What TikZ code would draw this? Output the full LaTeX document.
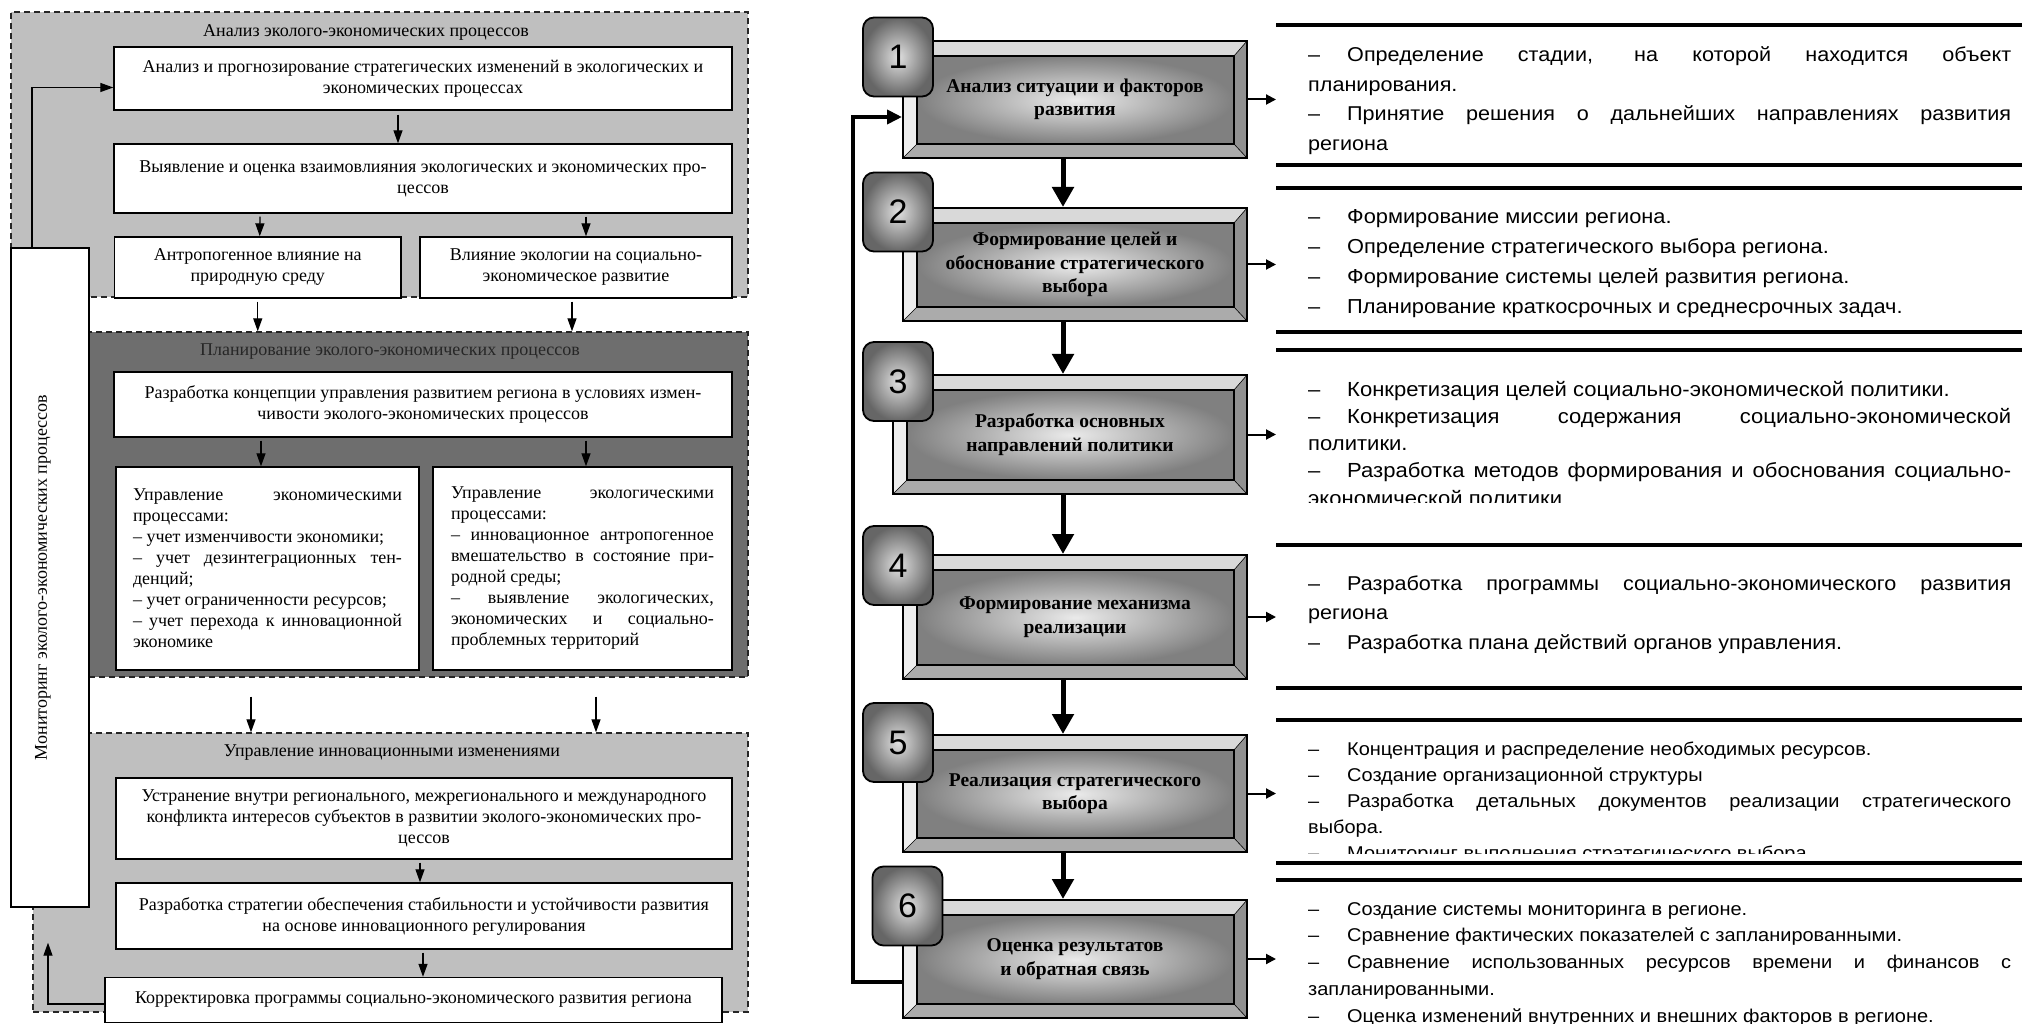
\documentclass[tikz,border=0pt]{standalone}
\usepackage{fontspec}
\setmainfont{Liberation Serif}
\newfontfamily\sansfnt{Liberation Sans}
\newfontfamily\secsans[FakeStretch=1.08]{Liberation Sans}
\usetikzlibrary{arrows.meta}
\setlength{\parindent}{0pt}
\newcommand\leftfnt{\fontsize{18}{21}\selectfont}
\newcommand\stepfnt{\fontsize{19.5}{23.5}\selectfont\bfseries}
\newcommand\secfnt[2]{\secsans\fontsize{#1}{#2}\selectfont}
\newcommand\itm{\makebox[39pt][l]{–}}

\begin{document}
\begin{tikzpicture}[x=1pt,y=-1pt,
  box/.style={draw,line width=1.4pt,fill=white,font=\leftfnt,align=center,inner sep=0pt},
  grp/.style={draw=black!85,line width=1.4pt,dash pattern=on 6pt off 4pt,inner sep=0pt},
  arr/.style={line width=1.3pt,-{Triangle[width=9pt,length=13pt]}},
  stepbox/.style={draw,line width=2pt,align=center,font=\stepfnt,inner sep=0pt,minimum width=344pt,
    path picture={\def\bb{path picture bounding box}
      \fill[black!15] (\bb.north west) -- (\bb.north east) -- ([shift={(-13pt,-15pt)}]\bb.north east) -- ([shift={(14pt,-15pt)}]\bb.north west) -- cycle;
      \fill[black!7] (\bb.north west) -- ([shift={(14pt,-15pt)}]\bb.north west) -- ([shift={(14pt,14pt)}]\bb.south west) -- (\bb.south west) -- cycle;
      \fill[black!33] (\bb.south west) -- ([shift={(14pt,14pt)}]\bb.south west) -- ([shift={(-13pt,14pt)}]\bb.south east) -- (\bb.south east) -- cycle;
      \fill[black!43] (\bb.north east) -- ([shift={(-13pt,-15pt)}]\bb.north east) -- ([shift={(-13pt,14pt)}]\bb.south east) -- (\bb.south east) -- cycle;
      \shade[inner color=black!8,outer color=black!50] ([shift={(14pt,-15pt)}]\bb.north west) rectangle ([shift={(-13pt,14pt)}]\bb.south east);
      \draw[line width=1.8pt] ([shift={(14pt,-15pt)}]\bb.north west) rectangle ([shift={(-13pt,14pt)}]\bb.south east);
      \draw[line width=.6pt] (\bb.north west) -- ([shift={(14pt,-15pt)}]\bb.north west) (\bb.south west) -- ([shift={(14pt,14pt)}]\bb.south west)
        (\bb.north east) -- ([shift={(-13pt,-15pt)}]\bb.north east) (\bb.south east) -- ([shift={(-13pt,14pt)}]\bb.south east);
    }},
  badge/.style={draw,line width=1.8pt,rounded corners=11pt,inner color=black!12,outer color=black!60,
    minimum width=70pt,minimum height=79pt,inner sep=0pt,font=\sansfnt\fontsize{34}{34}\selectfont},
  bigarr/.style={line width=5pt,-{Triangle[width=21pt,length=20pt]}},
  sarr/.style={line width=2pt,-{Triangle[width=10pt,length=10pt]}},
  fbarr/.style={line width=4pt,-{Triangle[width=14pt,length=15pt]}},
  secline/.style={line width=3.5pt},
  sect/.style={anchor=base west,text width=703pt,align=justify,inner sep=0pt}]
\useasboundingbox (0,0) rectangle (2022,1024);

\node[grp,fill=black!25,minimum width=737pt,minimum height=285pt] (an) at (379.5,154.5) {};
\node[grp,fill=black!57,minimum width=659pt,minimum height=345pt] (plan) at (418.5,504.5) {};
\node[grp,fill=black!25,minimum width=715pt,minimum height=279pt] (inno) at (390.5,872.5) {};

\node[font=\leftfnt] (antit) at (366,32) {Анализ эколого-экономических процессов};
\node[font=\leftfnt,text=black!85] (plantit) at (390,352) {Планирование эколого-экономических процессов};
\node[font=\leftfnt] (innotit) at (392,753) {Управление инновационными изменениями};

\node[box,minimum width=618pt,minimum height=63pt] (b1) at (423,78.5) {Анализ и прогнозирование стратегических изменений в экологических и\\экономических процессах};
\node[box,minimum width=618pt,minimum height=69pt] (b2) at (423,178.5) {Выявление и оценка взаимовлияния экологических и экономических про-\\цессов};
\node[box,minimum width=286.5pt,minimum height=61pt] (b3a) at (257.75,267.5) {Антропогенное влияние на\\природную среду};
\node[box,minimum width=312pt,minimum height=61pt] (b3b) at (576,267.5) {Влияние экологии на социально-\\экономическое развитие};

\node[box,minimum width=618pt,minimum height=65pt] (p1) at (423,404.5) {Разработка концепции управления развитием региона в условиях измен-\\чивости эколого-экономических процессов};
\node[box,minimum width=303pt,minimum height=203pt,text width=269pt,align=justify] (p2a) at (267.5,568.5) {Управление экономическими\linebreak процессами:\par – учет изменчивости экономики;\par – учет дезинтеграционных тен-\linebreak денций;\par – учет ограниченности ресурсов;\par – учет перехода к инновационной\linebreak экономике\par\vspace{14pt}};
\node[box,minimum width=299pt,minimum height=203pt,text width=263pt,align=justify] (p2b) at (582.5,568.5) {Управление экологическими\linebreak процессами:\par – инновационное антропогенное\linebreak вмешательство в состояние при-\linebreak родной среды;\par – выявление экологических,\linebreak экономических и социально-\linebreak проблемных территорий\par\vspace{14pt}};

\node[box,minimum width=616pt,minimum height=81pt] (i1) at (424,818.5) {Устранение внутри регионального, межрегионального и международного\\конфликта интересов субъектов в развитии эколого-экономических про-\\цессов};
\node[box,minimum width=616pt,minimum height=66pt] (i2) at (424,916) {Разработка стратегии обеспечения стабильности и устойчивости развития\\на основе инновационного регулирования};
\node[box,minimum width=617pt,minimum height=45pt] (i3) at (413.5,1000) {Корректировка программы социально-экономического развития региона};

\node[box,minimum width=78pt,minimum height=659pt] (mon) at (50,577.5) {};
\node[rotate=90,font=\leftfnt] (monlbl) at ([xshift=-7pt]mon.center) {Мониторинг эколого-экономических процессов};

\draw[arr,shorten <=4pt] ([xshift=-25pt]b1.south) -- ([xshift=-25pt]b2.north);
\draw[arr,shorten <=3pt] ([xshift=-163pt]b2.south) -- ([xshift=2pt]b3a.north);
\draw[arr,shorten <=3pt] ([xshift=163pt]b2.south) -- ([xshift=10pt]b3b.north);
\draw[arr,shorten <=3pt] (b3a.south) -- (b3a.south |- plan.north);
\draw[arr,shorten <=3pt] ([xshift=-4pt]b3b.south) -- ([xshift=-4pt]b3b.south |- plan.north);
\draw[arr,shorten <=3pt] ([xshift=-162pt]p1.south) -- ([xshift=-6.5pt]p2a.north);
\draw[arr,shorten <=3pt] ([xshift=163pt]p1.south) -- ([xshift=3.5pt]p2b.north);
\draw[arr,shorten <=19pt] ([xshift=-167.5pt]plan.south) -- ([xshift=-167.5pt]plan.south |- inno.north);
\draw[arr,shorten <=19pt] ([xshift=177.5pt]plan.south) -- ([xshift=177.5pt]plan.south |- inno.north);
\draw[arr,shorten <=3pt] ([xshift=-4pt]i1.south) -- ([xshift=-4pt]i2.north);
\draw[arr,shorten <=3pt] ([xshift=-1pt]i2.south) -- ([xshift=9.5pt]i3.north);
\draw[arr] ([xshift=-18pt]mon.north) |- ([yshift=-9pt]b1.west);
\draw[arr,shorten >=35pt] ([yshift=-4pt]i3.west) -| ([xshift=-2pt]mon.south);

\node[stepbox,minimum height=117pt] (s1) at (1075,99.5) {Анализ ситуации и факторов\\развития};
\node[stepbox,minimum height=113pt] (s2) at (1075,264.5) {Формирование целей и\\обоснование стратегического\\выбора};
\node[stepbox,minimum width=354pt,minimum height=119pt] (s3) at (1070,434.5) {Разработка основных\\направлений политики};
\node[stepbox,minimum height=124pt] (s4) at (1075,617) {Формирование механизма\\реализации};
\node[stepbox,minimum height=117pt] (s5) at (1075,793.5) {Реализация стратегического\\выбора};
\node[stepbox,minimum height=118pt] (s6) at (1075,959) {Оценка результатов\\и обратная связь};

\node[badge] (n1) at (898,57) {1};
\node[badge] (n2) at (898,212) {2};
\node[badge] (n3) at (898,381.5) {3};
\node[badge] (n4) at (898,565.5) {4};
\node[badge] (n5) at (898,742.5) {5};
\node[badge] (n6) at (907.5,906) {6};

\coordinate (ax) at (1063,0);
\draw[bigarr] (s1.south -| ax) -- (s2.north -| ax);
\draw[bigarr] (s2.south -| ax) -- (s3.north -| ax);
\draw[bigarr] (s3.south -| ax) -- (s4.north -| ax);
\draw[bigarr] (s4.south -| ax) -- (s5.north -| ax);
\draw[bigarr] (s5.south -| ax) -- (s6.north -| ax);
\draw[fbarr] ([yshift=-23pt]s6.west) -| ([xshift=-49pt,yshift=-17.5pt]s1.west) -- ([yshift=-17.5pt]s1.west);

\draw[sarr] (s1.east) -- ([xshift=28pt]s1.east);
\draw[sarr] (s2.east) -- ([xshift=28pt]s2.east);
\draw[sarr] (s3.east) -- ([xshift=28pt]s3.east);
\draw[sarr] (s4.east) -- ([xshift=28pt]s4.east);
\draw[sarr] (s5.east) -- ([xshift=28pt]s5.east);
\draw[sarr] (s6.east) -- ([xshift=28pt]s6.east);

\foreach \yy in {25,165,188,332,350,545,688,720,863,880}
  \draw[secline] (1276,\yy) -- (2022,\yy);

\node[sect,font={\secfnt{20}{29.5}}] (t1) at (1308,62) {\itm Определение стадии, на которой находится объект\linebreak планирования.\par\itm Принятие решения о дальнейших направлениях развития\linebreak региона};
\node[sect,font={\secfnt{20.2}{30}}] (t2) at (1308,224) {\itm Формирование миссии региона.\par\itm Определение стратегического выбора региона.\par\itm Формирование системы целей развития региона.\par\itm Планирование краткосрочных и среднесрочных задач.};
\begin{scope}
\clip (1276,352) rectangle (2022,502);
\node[sect,font={\secfnt{20.4}{27.3}}] (t3) at (1308,396) {\itm Конкретизация целей социально-экономической политики.\par\itm Конкретизация содержания социально-экономической\linebreak политики.\par\itm Разработка методов формирования и обоснования социально-\linebreak экономической политики};
\end{scope}
\node[sect,font={\secfnt{20}{29.5}}] (t4) at (1308,590) {\itm Разработка программы социально-экономического развития\linebreak региона\par\itm Разработка плана действий органов управления.};
\begin{scope}
\clip (1276,722) rectangle (2022,853);
\node[sect,font={\secfnt{18.5}{26}}] (t5) at (1308,755) {\itm Концентрация и распределение необходимых ресурсов.\par\itm Создание организационной структуры\par\itm Разработка детальных документов реализации стратегического\linebreak выбора.\par\itm Мониторинг выполнения стратегического выбора};
\end{scope}
\node[sect,font={\secfnt{18.5}{26.8}}] (t6) at (1308,915) {\itm Создание системы мониторинга в регионе.\par\itm Сравнение фактических показателей с запланированными.\par\itm Сравнение использованных ресурсов времени и финансов с\linebreak запланированными.\par\itm Оценка изменений внутренних и внешних факторов в регионе.};
\end{tikzpicture}
\end{document}
